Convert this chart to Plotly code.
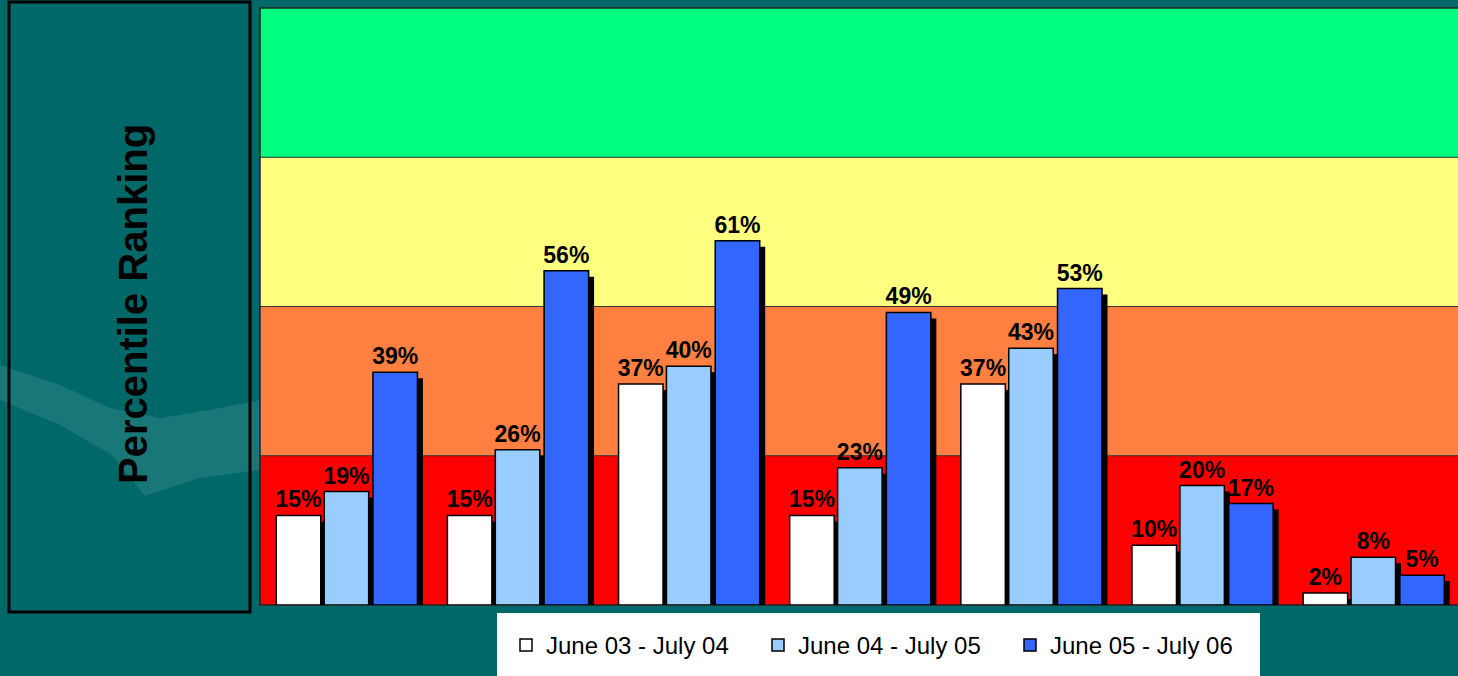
import plotly.graph_objects as go

# ---- data ----
categories = ["G1", "G2", "G3", "G4", "G5", "G6", "G7"]
series_names = ["June 03 - July 04", "June 04 - July 05", "June 05 - July 06"]
june03_july04 = [15, 15, 37, 15, 37, 10, 2]
june04_july05 = [19, 26, 40, 23, 43, 20, 8]
june05_july06 = [39, 56, 61, 49, 53, 17, 5]
band_edges = [0, 25, 50, 75, 100]
band_colors = ["#FF0000", "#FF8040", "#FFFF80", "#00FF80"]
y_title = "Percentile Ranking"

series_values = [june03_july04, june04_july05, june05_july06]
series_colors = ["#FFFFFF", "#99CCFF", "#3366FF"]
offsets = [-0.405, -0.125, 0.16]
bar_w = 0.26
shadow_dx = 0.032
shadow_dy = 1.0

W, H = 1458, 676
ML, MR, MT, MB = 260, 0, 8, 71
PW = W - ML - MR
PH = H - MT - MB


def px(x):
    return (x - ML) / PW


def py(y):
    return (H - MB - y) / PH


fig = go.Figure()

# shadows
for vals, off in zip(series_values, offsets):
    fig.add_trace(go.Bar(
        x=categories, y=[max(v - shadow_dy, 0) for v in vals],
        width=bar_w, offset=off + shadow_dx,
        marker=dict(color="black", line=dict(width=0)),
        showlegend=False, hoverinfo="skip",
    ))

# main bars
for name, vals, col, off in zip(series_names, series_values, series_colors, offsets):
    fig.add_trace(go.Bar(
        x=categories, y=vals, name=name,
        width=bar_w, offset=off,
        marker=dict(color=col, line=dict(color="black", width=1.5)),
        text=[f"{v}%" for v in vals], textposition="outside",
        textfont=dict(family="Arial, Liberation Sans", size=23, color="black", weight="bold"),
        constraintext="none", cliponaxis=False,
    ))

shapes = []
# background swoosh
pts = [(0, 365), (60, 385), (110, 408), (160, 418), (210, 410), (260, 400),
       (260, 470), (200, 478), (145, 496), (112, 455), (60, 425), (0, 400)]
path = "M " + " L ".join(f"{px(x):.4f},{py(y):.4f}" for x, y in pts) + " Z"
shapes.append(dict(type="path", xref="paper", yref="paper", path=path,
                   fillcolor="rgba(255,255,255,0.10)", line=dict(width=0), layer="below"))
# bands
for i, c in enumerate(band_colors):
    shapes.append(dict(type="rect", xref="paper", yref="y", x0=0, x1=1,
                       y0=band_edges[i], y1=band_edges[i + 1],
                       fillcolor=c, line=dict(width=0), layer="below"))
for e in band_edges[1:-1]:
    shapes.append(dict(type="line", xref="paper", yref="y", x0=0, x1=1, y0=e, y1=e,
                       line=dict(color="#333333", width=1), layer="below"))
# plot frame
shapes.append(dict(type="rect", xref="paper", yref="paper", x0=0, x1=1.01, y0=0, y1=1,
                   line=dict(color="#222222", width=1.5), layer="below"))
# left panel
shapes.append(dict(type="rect", xref="paper", yref="paper",
                   x0=px(9), x1=px(250), y0=py(612), y1=py(2),
                   line=dict(color="black", width=3), fillcolor="rgba(0,0,0,0)"))
# legend box
shapes.append(dict(type="rect", xref="paper", yref="paper",
                   x0=px(497), x1=px(1260), y0=py(680), y1=py(613),
                   line=dict(width=0), fillcolor="white"))

fig.update_layout(
    width=W, height=H,
    margin=dict(l=ML, r=MR, t=MT, b=MB),
    paper_bgcolor="#006868", plot_bgcolor="rgba(0,0,0,0)",
    barmode="overlay",
    shapes=shapes,
    xaxis=dict(range=[-0.5, 6.5], showticklabels=False, showgrid=False, zeroline=False,
               showline=False, ticks="", fixedrange=True),
    yaxis=dict(range=[0, 100], showticklabels=False, showgrid=False, zeroline=False,
               showline=False, ticks="", fixedrange=True),
    showlegend=True,
    legend=dict(orientation="h", x=px(506), xanchor="left", y=py(623), yanchor="top",
                bgcolor="rgba(0,0,0,0)", font=dict(family="Arial, Liberation Sans", size=24, color="black"),
                entrywidth=207, entrywidthmode="pixels", traceorder="normal"),
    annotations=[dict(text=y_title, xref="paper", yref="paper", x=px(133), y=py(304),
                      xanchor="center", yanchor="middle",
                      textangle=-90, showarrow=False,
                      font=dict(family="Arial, Liberation Sans", size=40, color="black", weight="bold"))],
    hovermode=False,
)

fig.write_html("out.html", config={"displayModeBar": False},
               post_script="document.body.style.margin='0';document.body.style.padding='0';document.body.style.overflow='hidden';")
